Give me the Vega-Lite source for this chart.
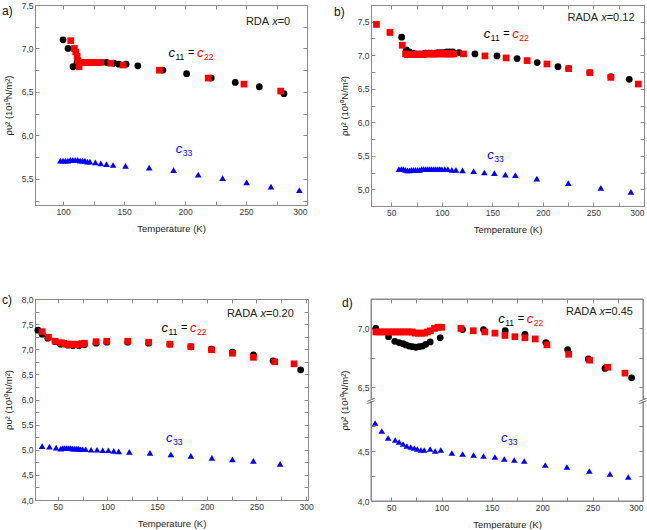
{
  "$schema": "https://vega.github.io/schema/vega-lite/v6.json",
  "padding": {"left": 1, "top": 0, "right": 2, "bottom": 0},
  "background": "white",
  "config": {
    "font": "Liberation Sans",
    "view": {"stroke": "#8a8a8a", "strokeWidth": 1},
    "axis": {
      "grid": false, "domain": true, "ticks": true, "domainColor": "#8a8a8a", "domainWidth": 1, "tickColor": "#8a8a8a", "tickSize": -4,
      "labelFontSize": 8.5, "labelColor": "#333333", "labelPadding": 6,
      "titleFontSize": 9.5, "titleFontWeight": "normal", "titleColor": "#222222", "titlePadding": 8
    },
    "text": {"font": "Liberation Sans"}
  },
  "datasets": {
    "one": [{}],
    "a": [
      {"T": 100, "v": 7.10, "s": "c11"}, {"T": 104.1, "v": 7.00, "s": "c11"}, {"T": 108.2, "v": 6.79, "s": "c11"},
      {"T": 111.5, "v": 6.84, "s": "c11"}, {"T": 114, "v": 6.84, "s": "c11"}, {"T": 117, "v": 6.84, "s": "c11"},
      {"T": 120, "v": 6.84, "s": "c11"}, {"T": 123, "v": 6.84, "s": "c11"}, {"T": 126, "v": 6.84, "s": "c11"},
      {"T": 129, "v": 6.84, "s": "c11"}, {"T": 135.6, "v": 6.84, "s": "c11"}, {"T": 141.6, "v": 6.83, "s": "c11"},
      {"T": 145.7, "v": 6.82, "s": "c11"}, {"T": 151.7, "v": 6.82, "s": "c11"}, {"T": 161.3, "v": 6.80, "s": "c11"},
      {"T": 181.8, "v": 6.75, "s": "c11"}, {"T": 201.3, "v": 6.71, "s": "c11"}, {"T": 221.5, "v": 6.66, "s": "c11"},
      {"T": 241.2, "v": 6.61, "s": "c11"}, {"T": 260.9, "v": 6.56, "s": "c11"}, {"T": 281.1, "v": 6.48, "s": "c11"},
      {"T": 106.3, "v": 7.09, "s": "c22"}, {"T": 109.3, "v": 7.00, "s": "c22"}, {"T": 110.4, "v": 6.96, "s": "c22"},
      {"T": 111.5, "v": 6.91, "s": "c22"}, {"T": 112.3, "v": 6.86, "s": "c22"}, {"T": 113.1, "v": 6.79, "s": "c22"},
      {"T": 114, "v": 6.84, "s": "c22"}, {"T": 115.5, "v": 6.84, "s": "c22"}, {"T": 117, "v": 6.84, "s": "c22"},
      {"T": 118.5, "v": 6.84, "s": "c22"}, {"T": 120, "v": 6.84, "s": "c22"}, {"T": 121.5, "v": 6.84, "s": "c22"},
      {"T": 123, "v": 6.84, "s": "c22"}, {"T": 124.5, "v": 6.84, "s": "c22"}, {"T": 126, "v": 6.84, "s": "c22"},
      {"T": 127.5, "v": 6.84, "s": "c22"}, {"T": 129, "v": 6.84, "s": "c22"}, {"T": 131, "v": 6.84, "s": "c22"},
      {"T": 139.1, "v": 6.83, "s": "c22"}, {"T": 149.2, "v": 6.81, "s": "c22"}, {"T": 179.0, "v": 6.75, "s": "c22"},
      {"T": 219.0, "v": 6.66, "s": "c22"}, {"T": 248.3, "v": 6.59, "s": "c22"}, {"T": 278.4, "v": 6.51, "s": "c22"},
      {"T": 97.8, "v": 5.71, "s": "c33"}, {"T": 100, "v": 5.71, "s": "c33"}, {"T": 102, "v": 5.71, "s": "c33"},
      {"T": 104, "v": 5.71, "s": "c33"}, {"T": 106, "v": 5.72, "s": "c33"}, {"T": 108, "v": 5.72, "s": "c33"},
      {"T": 110, "v": 5.72, "s": "c33"}, {"T": 112, "v": 5.72, "s": "c33"}, {"T": 114, "v": 5.71, "s": "c33"},
      {"T": 116, "v": 5.71, "s": "c33"}, {"T": 118, "v": 5.71, "s": "c33"}, {"T": 120, "v": 5.70, "s": "c33"},
      {"T": 122, "v": 5.70, "s": "c33"}, {"T": 126.5, "v": 5.69, "s": "c33"}, {"T": 130.9, "v": 5.68, "s": "c33"},
      {"T": 135.6, "v": 5.67, "s": "c33"}, {"T": 141.0, "v": 5.66, "s": "c33"}, {"T": 151.2, "v": 5.65, "s": "c33"},
      {"T": 170.6, "v": 5.63, "s": "c33"}, {"T": 190.6, "v": 5.60, "s": "c33"}, {"T": 210.8, "v": 5.55, "s": "c33"},
      {"T": 230.8, "v": 5.51, "s": "c33"}, {"T": 250.5, "v": 5.46, "s": "c33"}, {"T": 270.5, "v": 5.41, "s": "c33"},
      {"T": 293.7, "v": 5.37, "s": "c33"}
    ],
    "b": [
      {"T": 60.3, "v": 7.27, "s": "c11"}, {"T": 64.9, "v": 7.08, "s": "c11"}, {"T": 68, "v": 7.05, "s": "c11"},
      {"T": 71.5, "v": 7.03, "s": "c11"}, {"T": 75, "v": 7.02, "s": "c11"}, {"T": 78, "v": 7.02, "s": "c11"},
      {"T": 81, "v": 7.02, "s": "c11"}, {"T": 84, "v": 7.03, "s": "c11"}, {"T": 87, "v": 7.03, "s": "c11"},
      {"T": 90, "v": 7.03, "s": "c11"}, {"T": 93, "v": 7.03, "s": "c11"}, {"T": 96, "v": 7.04, "s": "c11"},
      {"T": 99, "v": 7.04, "s": "c11"}, {"T": 102, "v": 7.04, "s": "c11"}, {"T": 105, "v": 7.05, "s": "c11"},
      {"T": 108, "v": 7.05, "s": "c11"}, {"T": 111, "v": 7.05, "s": "c11"}, {"T": 117, "v": 7.04, "s": "c11"},
      {"T": 132.8, "v": 7.02, "s": "c11"}, {"T": 154.6, "v": 6.99, "s": "c11"}, {"T": 174.5, "v": 6.95, "s": "c11"},
      {"T": 194.4, "v": 6.89, "s": "c11"}, {"T": 214.9, "v": 6.83, "s": "c11"}, {"T": 225.5, "v": 6.80, "s": "c11"},
      {"T": 246.4, "v": 6.74, "s": "c11"}, {"T": 267.2, "v": 6.68, "s": "c11"}, {"T": 285.4, "v": 6.64, "s": "c11"},
      {"T": 35.4, "v": 7.46, "s": "c22"}, {"T": 48.7, "v": 7.34, "s": "c22"}, {"T": 60.9, "v": 7.15, "s": "c22"},
      {"T": 64.2, "v": 7.02, "s": "c22"}, {"T": 66, "v": 7.01, "s": "c22"}, {"T": 68, "v": 7.01, "s": "c22"},
      {"T": 70, "v": 7.01, "s": "c22"}, {"T": 72, "v": 7.01, "s": "c22"}, {"T": 74, "v": 7.01, "s": "c22"},
      {"T": 76, "v": 7.01, "s": "c22"}, {"T": 78, "v": 7.01, "s": "c22"}, {"T": 80, "v": 7.01, "s": "c22"},
      {"T": 82, "v": 7.01, "s": "c22"}, {"T": 84, "v": 7.02, "s": "c22"}, {"T": 86, "v": 7.02, "s": "c22"},
      {"T": 88, "v": 7.02, "s": "c22"}, {"T": 90, "v": 7.02, "s": "c22"}, {"T": 92, "v": 7.02, "s": "c22"},
      {"T": 94, "v": 7.02, "s": "c22"}, {"T": 96, "v": 7.02, "s": "c22"}, {"T": 98, "v": 7.02, "s": "c22"},
      {"T": 100, "v": 7.03, "s": "c22"}, {"T": 102, "v": 7.02, "s": "c22"}, {"T": 104, "v": 7.02, "s": "c22"},
      {"T": 106, "v": 7.02, "s": "c22"}, {"T": 108, "v": 7.02, "s": "c22"}, {"T": 110, "v": 7.02, "s": "c22"},
      {"T": 112, "v": 7.02, "s": "c22"}, {"T": 121.5, "v": 7.02, "s": "c22"}, {"T": 142.7, "v": 6.99, "s": "c22"},
      {"T": 163.6, "v": 6.96, "s": "c22"}, {"T": 184.4, "v": 6.92, "s": "c22"}, {"T": 204.0, "v": 6.87, "s": "c22"},
      {"T": 225.5, "v": 6.80, "s": "c22"}, {"T": 246.4, "v": 6.74, "s": "c22"}, {"T": 267.2, "v": 6.67, "s": "c22"},
      {"T": 294.4, "v": 6.57, "s": "c22"},
      {"T": 57.6, "v": 5.30, "s": "c33"}, {"T": 60, "v": 5.30, "s": "c33"}, {"T": 62, "v": 5.30, "s": "c33"},
      {"T": 64, "v": 5.29, "s": "c33"}, {"T": 66, "v": 5.28, "s": "c33"}, {"T": 68, "v": 5.28, "s": "c33"},
      {"T": 70, "v": 5.29, "s": "c33"}, {"T": 72, "v": 5.29, "s": "c33"}, {"T": 74, "v": 5.29, "s": "c33"},
      {"T": 76, "v": 5.29, "s": "c33"}, {"T": 78, "v": 5.29, "s": "c33"}, {"T": 80, "v": 5.30, "s": "c33"},
      {"T": 82, "v": 5.30, "s": "c33"}, {"T": 84, "v": 5.30, "s": "c33"}, {"T": 86, "v": 5.30, "s": "c33"},
      {"T": 88, "v": 5.30, "s": "c33"}, {"T": 90, "v": 5.30, "s": "c33"}, {"T": 92, "v": 5.30, "s": "c33"},
      {"T": 94, "v": 5.30, "s": "c33"}, {"T": 96, "v": 5.30, "s": "c33"}, {"T": 98, "v": 5.30, "s": "c33"},
      {"T": 100, "v": 5.30, "s": "c33"}, {"T": 103, "v": 5.30, "s": "c33"}, {"T": 106, "v": 5.30, "s": "c33"},
      {"T": 110, "v": 5.29, "s": "c33"}, {"T": 114, "v": 5.29, "s": "c33"}, {"T": 120.5, "v": 5.28, "s": "c33"},
      {"T": 131.5, "v": 5.27, "s": "c33"}, {"T": 142.1, "v": 5.25, "s": "c33"}, {"T": 152.0, "v": 5.24, "s": "c33"},
      {"T": 162.9, "v": 5.22, "s": "c33"}, {"T": 172.8, "v": 5.21, "s": "c33"}, {"T": 194.0, "v": 5.16, "s": "c33"},
      {"T": 225.2, "v": 5.09, "s": "c33"}, {"T": 257.3, "v": 5.02, "s": "c33"}, {"T": 287.1, "v": 4.96, "s": "c33"}
    ],
    "c": [
      {"T": 29.9, "v": 7.38, "s": "c11"}, {"T": 34.2, "v": 7.30, "s": "c11"}, {"T": 39.9, "v": 7.22, "s": "c11"},
      {"T": 47.3, "v": 7.15, "s": "c11"}, {"T": 52.7, "v": 7.10, "s": "c11"}, {"T": 60.1, "v": 7.08, "s": "c11"},
      {"T": 65.1, "v": 7.07, "s": "c11"}, {"T": 71.1, "v": 7.07, "s": "c11"}, {"T": 76.8, "v": 7.09, "s": "c11"},
      {"T": 88.5, "v": 7.12, "s": "c11"}, {"T": 99.3, "v": 7.14, "s": "c11"}, {"T": 120.4, "v": 7.14, "s": "c11"},
      {"T": 141.5, "v": 7.12, "s": "c11"}, {"T": 162.9, "v": 7.10, "s": "c11"}, {"T": 184.0, "v": 7.05, "s": "c11"},
      {"T": 204.8, "v": 7.00, "s": "c11"}, {"T": 225.9, "v": 6.94, "s": "c11"}, {"T": 247.0, "v": 6.89, "s": "c11"},
      {"T": 266.8, "v": 6.77, "s": "c11"}, {"T": 294.6, "v": 6.59, "s": "c11"},
      {"T": 34.2, "v": 7.35, "s": "c22"}, {"T": 40.6, "v": 7.24, "s": "c22"}, {"T": 47.3, "v": 7.16, "s": "c22"},
      {"T": 53.4, "v": 7.13, "s": "c22"}, {"T": 56, "v": 7.12, "s": "c22"}, {"T": 58.4, "v": 7.10, "s": "c22"},
      {"T": 60.5, "v": 7.10, "s": "c22"}, {"T": 62.7, "v": 7.10, "s": "c22"}, {"T": 65, "v": 7.10, "s": "c22"},
      {"T": 67.4, "v": 7.09, "s": "c22"}, {"T": 69.7, "v": 7.10, "s": "c22"}, {"T": 72.1, "v": 7.10, "s": "c22"},
      {"T": 74.4, "v": 7.11, "s": "c22"}, {"T": 76.8, "v": 7.12, "s": "c22"}, {"T": 88.5, "v": 7.15, "s": "c22"},
      {"T": 99.3, "v": 7.16, "s": "c22"}, {"T": 120.4, "v": 7.16, "s": "c22"}, {"T": 141.5, "v": 7.14, "s": "c22"},
      {"T": 162.9, "v": 7.10, "s": "c22"}, {"T": 184.0, "v": 7.05, "s": "c22"}, {"T": 204.8, "v": 6.99, "s": "c22"},
      {"T": 225.9, "v": 6.92, "s": "c22"}, {"T": 247.0, "v": 6.84, "s": "c22"}, {"T": 268.5, "v": 6.75, "s": "c22"},
      {"T": 287.9, "v": 6.71, "s": "c22"},
      {"T": 34.2, "v": 5.07, "s": "c33"}, {"T": 41.6, "v": 5.06, "s": "c33"}, {"T": 48.3, "v": 5.04, "s": "c33"},
      {"T": 53, "v": 5.02, "s": "c33"}, {"T": 55, "v": 5.03, "s": "c33"}, {"T": 57, "v": 5.03, "s": "c33"},
      {"T": 59, "v": 5.03, "s": "c33"}, {"T": 61, "v": 5.03, "s": "c33"}, {"T": 63, "v": 5.03, "s": "c33"},
      {"T": 65, "v": 5.02, "s": "c33"}, {"T": 67, "v": 5.02, "s": "c33"}, {"T": 69, "v": 5.02, "s": "c33"},
      {"T": 71, "v": 5.02, "s": "c33"}, {"T": 73, "v": 5.01, "s": "c33"}, {"T": 75, "v": 5.01, "s": "c33"},
      {"T": 78, "v": 5.01, "s": "c33"}, {"T": 83.5, "v": 5.00, "s": "c33"}, {"T": 89.5, "v": 5.00, "s": "c33"},
      {"T": 95.2, "v": 4.99, "s": "c33"}, {"T": 100.9, "v": 4.99, "s": "c33"}, {"T": 106.3, "v": 4.98, "s": "c33"},
      {"T": 111.3, "v": 4.97, "s": "c33"}, {"T": 122.0, "v": 4.96, "s": "c33"}, {"T": 142.8, "v": 4.94, "s": "c33"},
      {"T": 163.9, "v": 4.91, "s": "c33"}, {"T": 184.0, "v": 4.88, "s": "c33"}, {"T": 205.2, "v": 4.84, "s": "c33"},
      {"T": 225.9, "v": 4.81, "s": "c33"}, {"T": 247.0, "v": 4.78, "s": "c33"}, {"T": 273.9, "v": 4.72, "s": "c33"}
    ],
    "d": [
      {"T": 34.8, "v": 7.00, "s": "c11"}, {"T": 47.4, "v": 6.93, "s": "c11"}, {"T": 53.6, "v": 6.89, "s": "c11"},
      {"T": 57.9, "v": 6.88, "s": "c11"}, {"T": 61.9, "v": 6.87, "s": "c11"}, {"T": 64.6, "v": 6.86, "s": "c11"},
      {"T": 67.9, "v": 6.85, "s": "c11"}, {"T": 71.2, "v": 6.845, "s": "c11"}, {"T": 74.5, "v": 6.84, "s": "c11"},
      {"T": 77.8, "v": 6.845, "s": "c11"}, {"T": 81.1, "v": 6.85, "s": "c11"}, {"T": 84.4, "v": 6.865, "s": "c11"},
      {"T": 88.7, "v": 6.885, "s": "c11"}, {"T": 98.7, "v": 6.92, "s": "c11"}, {"T": 120.9, "v": 6.99, "s": "c11"},
      {"T": 141.7, "v": 6.99, "s": "c11"}, {"T": 163.2, "v": 6.98, "s": "c11"}, {"T": 182.8, "v": 6.95, "s": "c11"},
      {"T": 203.6, "v": 6.88, "s": "c11"}, {"T": 225.2, "v": 6.82, "s": "c11"}, {"T": 245.7, "v": 6.74, "s": "c11"},
      {"T": 262.3, "v": 6.66, "s": "c11"}, {"T": 288.7, "v": 6.58, "s": "c11"},
      {"T": 34.8, "v": 6.97, "s": "c22"}, {"T": 38, "v": 6.97, "s": "c22"}, {"T": 41, "v": 6.97, "s": "c22"},
      {"T": 44, "v": 6.97, "s": "c22"}, {"T": 47, "v": 6.97, "s": "c22"}, {"T": 50, "v": 6.97, "s": "c22"},
      {"T": 53, "v": 6.97, "s": "c22"}, {"T": 56, "v": 6.97, "s": "c22"}, {"T": 59, "v": 6.97, "s": "c22"},
      {"T": 62, "v": 6.97, "s": "c22"}, {"T": 65, "v": 6.97, "s": "c22"}, {"T": 68, "v": 6.97, "s": "c22"},
      {"T": 71, "v": 6.97, "s": "c22"}, {"T": 74, "v": 6.96, "s": "c22"}, {"T": 77, "v": 6.96, "s": "c22"},
      {"T": 80, "v": 6.96, "s": "c22"}, {"T": 83, "v": 6.96, "s": "c22"}, {"T": 86, "v": 6.97, "s": "c22"},
      {"T": 89, "v": 6.98, "s": "c22"}, {"T": 93, "v": 7.00, "s": "c22"}, {"T": 96.5, "v": 7.01, "s": "c22"},
      {"T": 100, "v": 7.01, "s": "c22"}, {"T": 119.2, "v": 7.00, "s": "c22"}, {"T": 131.5, "v": 6.98, "s": "c22"},
      {"T": 143.0, "v": 6.97, "s": "c22"}, {"T": 153.0, "v": 6.96, "s": "c22"}, {"T": 162.9, "v": 6.94, "s": "c22"},
      {"T": 172.8, "v": 6.93, "s": "c22"}, {"T": 182.8, "v": 6.92, "s": "c22"}, {"T": 193.0, "v": 6.91, "s": "c22"},
      {"T": 204.6, "v": 6.86, "s": "c22"}, {"T": 226.2, "v": 6.78, "s": "c22"}, {"T": 247.0, "v": 6.73, "s": "c22"},
      {"T": 264.9, "v": 6.67, "s": "c22"}, {"T": 282.1, "v": 6.62, "s": "c22"},
      {"T": 34.1, "v": 4.78, "s": "c33"}, {"T": 40.7, "v": 4.70, "s": "c33"}, {"T": 47.0, "v": 4.63, "s": "c33"},
      {"T": 54.0, "v": 4.61, "s": "c33"}, {"T": 57.9, "v": 4.59, "s": "c33"}, {"T": 61.9, "v": 4.57, "s": "c33"},
      {"T": 65.6, "v": 4.55, "s": "c33"}, {"T": 69.5, "v": 4.54, "s": "c33"}, {"T": 73, "v": 4.53, "s": "c33"},
      {"T": 76, "v": 4.52, "s": "c33"}, {"T": 79.5, "v": 4.51, "s": "c33"}, {"T": 82.8, "v": 4.51, "s": "c33"},
      {"T": 88.7, "v": 4.52, "s": "c33"}, {"T": 93.7, "v": 4.50, "s": "c33"}, {"T": 99.3, "v": 4.51, "s": "c33"},
      {"T": 110.3, "v": 4.48, "s": "c33"}, {"T": 120.9, "v": 4.47, "s": "c33"}, {"T": 131.8, "v": 4.46, "s": "c33"},
      {"T": 141.7, "v": 4.45, "s": "c33"}, {"T": 153.0, "v": 4.44, "s": "c33"}, {"T": 162.3, "v": 4.42, "s": "c33"},
      {"T": 172.2, "v": 4.41, "s": "c33"}, {"T": 182.1, "v": 4.40, "s": "c33"}, {"T": 203.0, "v": 4.36, "s": "c33"},
      {"T": 224.5, "v": 4.34, "s": "c33"}, {"T": 246.7, "v": 4.30, "s": "c33"}, {"T": 267.2, "v": 4.27, "s": "c33"},
      {"T": 285.4, "v": 4.24, "s": "c33"}
    ]
  },
  "columns": 2,
  "spacing": {"row": 58, "column": 19},
  "concat": [
    {
      "width": 272, "height": 200,
      "data": {"name": "a"},
      "layer": [
        {
          "mark": {"type": "point", "filled": true, "opacity": 1},
          "encoding": {
            "x": {"field": "T", "type": "quantitative", "scale": {"domain": [77, 300], "nice": false, "zero": false},
                  "axis": {"title": "Temperature (K)", "values": [100, 125, 150, 175, 200, 225, 250, 275, 300], "labelExpr": "datum.value % 50 == 0 ? datum.label : ''"}},
            "y": {"field": "v", "type": "quantitative", "scale": {"domain": [5.2, 7.5], "nice": false, "zero": false},
                  "axis": {"title": "ρυ² (10¹⁰N/m²)", "values": [5.25, 5.5, 5.75, 6.0, 6.25, 6.5, 6.75, 7.0, 7.25, 7.5], "labelExpr": "abs(datum.value * 2 - round(datum.value * 2)) < 0.001 ? replace(format(datum.value, '.1f'), '.', ',') : ''"}},
            "shape": {"field": "s", "type": "nominal", "scale": {"domain": ["c11", "c22", "c33"], "range": ["circle", "square", "triangle-up"]}, "legend": null},
            "color": {"field": "s", "type": "nominal", "scale": {"domain": ["c11", "c22", "c33"], "range": ["#000000", "#ff0000", "#0000ff"]}, "legend": null},
            "size": {"field": "s", "type": "nominal", "scale": {"domain": ["c11", "c22", "c33"], "range": [46, 44, 66]}, "legend": null}
          }
        },
        {
          "data": {"name": "one"},
          "mark": {"type": "text", "text": "RDA", "align": "left", "baseline": "middle", "fontSize": 11, "color": "#222222"},
          "encoding": {
            "x": {"datum": 249.9, "type": "quantitative", "axis": {"orient": "top", "labels": false, "title": null, "values": [100, 125, 150, 175, 200, 225, 250, 275, 300]}},
            "y": {"datum": 7.30, "type": "quantitative", "axis": {"orient": "right", "labels": false, "title": null, "values": [5.25, 5.5, 5.75, 6.0, 6.25, 6.5, 6.75, 7.0, 7.25, 7.5]}}
          }
        },
        {"data": {"name": "one"}, "mark": {"type": "text", "text": "a)", "align": "left", "baseline": "middle", "fontSize": 12, "color": "#111111", "dx": -33, "dy": 6},
         "encoding": {"x": {"datum": 77, "type": "quantitative", "axis": null}, "y": {"datum": 7.5, "type": "quantitative", "axis": null}}},
        {"data": {"name": "one"}, "mark": {"type": "text", "text": "x", "align": "left", "baseline": "middle", "fontSize": 11, "fontStyle": "italic", "color": "#222222", "dx": 26.3},
         "encoding": {"x": {"datum": 249.9, "type": "quantitative", "axis": null}, "y": {"datum": 7.30, "type": "quantitative", "axis": null}}},
        {"data": {"name": "one"}, "mark": {"type": "text", "text": "=0", "align": "left", "baseline": "middle", "fontSize": 11, "color": "#222222", "dx": 31.8},
         "encoding": {"x": {"datum": 249.9, "type": "quantitative", "axis": null}, "y": {"datum": 7.30, "type": "quantitative", "axis": null}}},
        {"data": {"name": "one"}, "mark": {"type": "text", "text": "c", "align": "left", "baseline": "middle", "fontSize": 13, "fontStyle": "italic", "color": "#000000"},
         "encoding": {"x": {"datum": 186.4, "type": "quantitative", "axis": null}, "y": {"datum": 6.95, "type": "quantitative", "axis": null}}},
        {"data": {"name": "one"}, "mark": {"type": "text", "text": "11", "align": "left", "baseline": "middle", "fontSize": 8.5, "color": "#000000", "dx": 7, "dy": 4},
         "encoding": {"x": {"datum": 186.4, "type": "quantitative", "axis": null}, "y": {"datum": 6.95, "type": "quantitative", "axis": null}}},
        {"data": {"name": "one"}, "mark": {"type": "text", "text": "=", "align": "left", "baseline": "middle", "fontSize": 11, "color": "#000000", "dx": 19.5},
         "encoding": {"x": {"datum": 186.4, "type": "quantitative", "axis": null}, "y": {"datum": 6.95, "type": "quantitative", "axis": null}}},
        {"data": {"name": "one"}, "mark": {"type": "text", "text": "c", "align": "left", "baseline": "middle", "fontSize": 13, "fontStyle": "italic", "color": "#ff0000", "dx": 28.5},
         "encoding": {"x": {"datum": 186.4, "type": "quantitative", "axis": null}, "y": {"datum": 6.95, "type": "quantitative", "axis": null}}},
        {"data": {"name": "one"}, "mark": {"type": "text", "text": "22", "align": "left", "baseline": "middle", "fontSize": 8.5, "color": "#ff0000", "dx": 35.5, "dy": 4},
         "encoding": {"x": {"datum": 186.4, "type": "quantitative", "axis": null}, "y": {"datum": 6.95, "type": "quantitative", "axis": null}}},
        {"data": {"name": "one"}, "mark": {"type": "text", "text": "c", "align": "left", "baseline": "middle", "fontSize": 13, "fontStyle": "italic", "color": "#0000ff"},
         "encoding": {"x": {"datum": 192.4, "type": "quantitative", "axis": null}, "y": {"datum": 5.84, "type": "quantitative", "axis": null}}},
        {"data": {"name": "one"}, "mark": {"type": "text", "text": "33", "align": "left", "baseline": "middle", "fontSize": 8.5, "color": "#0000ff", "dx": 7, "dy": 4},
         "encoding": {"x": {"datum": 192.4, "type": "quantitative", "axis": null}, "y": {"datum": 5.84, "type": "quantitative", "axis": null}}}
      ],
      "resolve": {"axis": {"x": "independent", "y": "independent"}}
    },
    {
      "width": 273, "height": 201,
      "data": {"name": "b"},
      "layer": [
        {
          "mark": {"type": "point", "filled": true, "opacity": 1},
          "encoding": {
            "x": {"field": "T", "type": "quantitative", "scale": {"domain": [30, 300], "nice": false, "zero": false},
                  "axis": {"title": "Temperature (K)", "values": [50, 75, 100, 125, 150, 175, 200, 225, 250, 275, 300], "labelExpr": "datum.value % 50 == 0 ? datum.label : ''"}},
            "y": {"field": "v", "type": "quantitative", "scale": {"domain": [4.75, 7.75], "nice": false, "zero": false},
                  "axis": {"title": "ρυ² (10¹⁰N/m²)", "values": [4.75, 5.0, 5.25, 5.5, 5.75, 6.0, 6.25, 6.5, 6.75, 7.0, 7.25, 7.5, 7.75], "labelExpr": "datum.value == 7.75 ? ' ' : (abs(datum.value * 2 - round(datum.value * 2)) < 0.001 ? replace(format(datum.value, '.1f'), '.', ',') : '')"}},
            "shape": {"field": "s", "type": "nominal", "scale": {"domain": ["c11", "c22", "c33"], "range": ["circle", "square", "triangle-up"]}, "legend": null},
            "color": {"field": "s", "type": "nominal", "scale": {"domain": ["c11", "c22", "c33"], "range": ["#000000", "#ff0000", "#0000ff"]}, "legend": null},
            "size": {"field": "s", "type": "nominal", "scale": {"domain": ["c11", "c22", "c33"], "range": [46, 44, 66]}, "legend": null}
          }
        },
        {
          "data": {"name": "one"},
          "mark": {"type": "text", "text": "RADA", "align": "left", "baseline": "middle", "fontSize": 11, "color": "#222222"},
          "encoding": {
            "x": {"datum": 224.4, "type": "quantitative", "axis": {"orient": "top", "labels": false, "title": null, "values": [50, 75, 100, 125, 150, 175, 200, 225, 250, 275, 300]}},
            "y": {"datum": 7.56, "type": "quantitative", "axis": {"orient": "right", "labels": false, "title": null, "values": [5.0, 5.25, 5.5, 5.75, 6.0, 6.25, 6.5, 6.75, 7.0, 7.25, 7.5]}}
          }
        },
        {"data": {"name": "one"}, "mark": {"type": "text", "text": "b)", "align": "left", "baseline": "middle", "fontSize": 12, "color": "#111111", "dx": -37, "dy": 7},
         "encoding": {"x": {"datum": 30, "type": "quantitative", "axis": null}, "y": {"datum": 7.75, "type": "quantitative", "axis": null}}},
        {"data": {"name": "one"}, "mark": {"type": "text", "text": "x", "align": "left", "baseline": "middle", "fontSize": 11, "fontStyle": "italic", "color": "#222222", "dx": 33.6},
         "encoding": {"x": {"datum": 224.4, "type": "quantitative", "axis": null}, "y": {"datum": 7.56, "type": "quantitative", "axis": null}}},
        {"data": {"name": "one"}, "mark": {"type": "text", "text": "=0.12", "align": "left", "baseline": "middle", "fontSize": 11, "color": "#222222", "dx": 39.1},
         "encoding": {"x": {"datum": 224.4, "type": "quantitative", "axis": null}, "y": {"datum": 7.56, "type": "quantitative", "axis": null}}},
        {"data": {"name": "one"}, "mark": {"type": "text", "text": "c", "align": "left", "baseline": "middle", "fontSize": 13, "fontStyle": "italic", "color": "#000000"},
         "encoding": {"x": {"datum": 141.6, "type": "quantitative", "axis": null}, "y": {"datum": 7.31, "type": "quantitative", "axis": null}}},
        {"data": {"name": "one"}, "mark": {"type": "text", "text": "11", "align": "left", "baseline": "middle", "fontSize": 8.5, "color": "#000000", "dx": 7, "dy": 4},
         "encoding": {"x": {"datum": 141.6, "type": "quantitative", "axis": null}, "y": {"datum": 7.31, "type": "quantitative", "axis": null}}},
        {"data": {"name": "one"}, "mark": {"type": "text", "text": "=", "align": "left", "baseline": "middle", "fontSize": 11, "color": "#000000", "dx": 19.5},
         "encoding": {"x": {"datum": 141.6, "type": "quantitative", "axis": null}, "y": {"datum": 7.31, "type": "quantitative", "axis": null}}},
        {"data": {"name": "one"}, "mark": {"type": "text", "text": "c", "align": "left", "baseline": "middle", "fontSize": 13, "fontStyle": "italic", "color": "#ff0000", "dx": 28.5},
         "encoding": {"x": {"datum": 141.6, "type": "quantitative", "axis": null}, "y": {"datum": 7.31, "type": "quantitative", "axis": null}}},
        {"data": {"name": "one"}, "mark": {"type": "text", "text": "22", "align": "left", "baseline": "middle", "fontSize": 8.5, "color": "#ff0000", "dx": 35.5, "dy": 4},
         "encoding": {"x": {"datum": 141.6, "type": "quantitative", "axis": null}, "y": {"datum": 7.31, "type": "quantitative", "axis": null}}},
        {"data": {"name": "one"}, "mark": {"type": "text", "text": "c", "align": "left", "baseline": "middle", "fontSize": 13, "fontStyle": "italic", "color": "#0000ff"},
         "encoding": {"x": {"datum": 145.0, "type": "quantitative", "axis": null}, "y": {"datum": 5.51, "type": "quantitative", "axis": null}}},
        {"data": {"name": "one"}, "mark": {"type": "text", "text": "33", "align": "left", "baseline": "middle", "fontSize": 8.5, "color": "#0000ff", "dx": 7, "dy": 4},
         "encoding": {"x": {"datum": 145.0, "type": "quantitative", "axis": null}, "y": {"datum": 5.51, "type": "quantitative", "axis": null}}}
      ],
      "resolve": {"axis": {"x": "independent", "y": "independent"}}
    },
    {
      "width": 273, "height": 201,
      "data": {"name": "c"},
      "layer": [
        {
          "mark": {"type": "point", "filled": true, "opacity": 1},
          "encoding": {
            "x": {"field": "T", "type": "quantitative", "scale": {"domain": [27, 302], "nice": false, "zero": false},
                  "axis": {"title": "Temperature (K)", "values": [50, 75, 100, 125, 150, 175, 200, 225, 250, 275, 300], "labelExpr": "datum.value % 50 == 0 ? datum.label : ''"}},
            "y": {"field": "v", "type": "quantitative", "scale": {"domain": [4.0, 8.0], "nice": false, "zero": false},
                  "axis": {"title": "ρυ² (10¹⁰N/m²)", "values": [4.0, 4.25, 4.5, 4.75, 5.0, 5.25, 5.5, 5.75, 6.0, 6.25, 6.5, 6.75, 7.0, 7.25, 7.5, 7.75, 8.0], "labelExpr": "abs(datum.value * 2 - round(datum.value * 2)) < 0.001 ? replace(format(datum.value, '.1f'), '.', ',') : ''"}},
            "shape": {"field": "s", "type": "nominal", "scale": {"domain": ["c11", "c22", "c33"], "range": ["circle", "square", "triangle-up"]}, "legend": null},
            "color": {"field": "s", "type": "nominal", "scale": {"domain": ["c11", "c22", "c33"], "range": ["#000000", "#ff0000", "#0000ff"]}, "legend": null},
            "size": {"field": "s", "type": "nominal", "scale": {"domain": ["c11", "c22", "c33"], "range": [46, 44, 66]}, "legend": null}
          }
        },
        {
          "data": {"name": "one"},
          "mark": {"type": "text", "text": "RADA", "align": "left", "baseline": "middle", "fontSize": 11, "color": "#222222"},
          "encoding": {
            "x": {"datum": 220.3, "type": "quantitative", "axis": {"orient": "top", "labels": false, "title": null, "values": [50, 75, 100, 125, 150, 175, 200, 225, 250, 275, 300]}},
            "y": {"datum": 7.71, "type": "quantitative", "axis": {"orient": "right", "labels": false, "title": null, "values": [4.25, 4.5, 4.75, 5.0, 5.25, 5.5, 5.75, 6.0, 6.25, 6.5, 6.75, 7.0, 7.25, 7.5, 7.75]}}
          }
        },
        {"data": {"name": "one"}, "mark": {"type": "text", "text": "c)", "align": "left", "baseline": "middle", "fontSize": 12, "color": "#111111", "dx": -33, "dy": 1},
         "encoding": {"x": {"datum": 27, "type": "quantitative", "axis": null}, "y": {"datum": 8.0, "type": "quantitative", "axis": null}}},
        {"data": {"name": "one"}, "mark": {"type": "text", "text": "x", "align": "left", "baseline": "middle", "fontSize": 11, "fontStyle": "italic", "color": "#222222", "dx": 33.6},
         "encoding": {"x": {"datum": 220.3, "type": "quantitative", "axis": null}, "y": {"datum": 7.71, "type": "quantitative", "axis": null}}},
        {"data": {"name": "one"}, "mark": {"type": "text", "text": "=0.20", "align": "left", "baseline": "middle", "fontSize": 11, "color": "#222222", "dx": 39.1},
         "encoding": {"x": {"datum": 220.3, "type": "quantitative", "axis": null}, "y": {"datum": 7.71, "type": "quantitative", "axis": null}}},
        {"data": {"name": "one"}, "mark": {"type": "text", "text": "c", "align": "left", "baseline": "middle", "fontSize": 13, "fontStyle": "italic", "color": "#000000"},
         "encoding": {"x": {"datum": 154.5, "type": "quantitative", "axis": null}, "y": {"datum": 7.43, "type": "quantitative", "axis": null}}},
        {"data": {"name": "one"}, "mark": {"type": "text", "text": "11", "align": "left", "baseline": "middle", "fontSize": 8.5, "color": "#000000", "dx": 7, "dy": 4},
         "encoding": {"x": {"datum": 154.5, "type": "quantitative", "axis": null}, "y": {"datum": 7.43, "type": "quantitative", "axis": null}}},
        {"data": {"name": "one"}, "mark": {"type": "text", "text": "=", "align": "left", "baseline": "middle", "fontSize": 11, "color": "#000000", "dx": 19.5},
         "encoding": {"x": {"datum": 154.5, "type": "quantitative", "axis": null}, "y": {"datum": 7.43, "type": "quantitative", "axis": null}}},
        {"data": {"name": "one"}, "mark": {"type": "text", "text": "c", "align": "left", "baseline": "middle", "fontSize": 13, "fontStyle": "italic", "color": "#ff0000", "dx": 28.5},
         "encoding": {"x": {"datum": 154.5, "type": "quantitative", "axis": null}, "y": {"datum": 7.43, "type": "quantitative", "axis": null}}},
        {"data": {"name": "one"}, "mark": {"type": "text", "text": "22", "align": "left", "baseline": "middle", "fontSize": 8.5, "color": "#ff0000", "dx": 35.5, "dy": 4},
         "encoding": {"x": {"datum": 154.5, "type": "quantitative", "axis": null}, "y": {"datum": 7.43, "type": "quantitative", "axis": null}}},
        {"data": {"name": "one"}, "mark": {"type": "text", "text": "c", "align": "left", "baseline": "middle", "fontSize": 13, "fontStyle": "italic", "color": "#0000ff"},
         "encoding": {"x": {"datum": 159.0, "type": "quantitative", "axis": null}, "y": {"datum": 5.23, "type": "quantitative", "axis": null}}},
        {"data": {"name": "one"}, "mark": {"type": "text", "text": "33", "align": "left", "baseline": "middle", "fontSize": 8.5, "color": "#0000ff", "dx": 7, "dy": 4},
         "encoding": {"x": {"datum": 159.0, "type": "quantitative", "axis": null}, "y": {"datum": 5.23, "type": "quantitative", "axis": null}}}
      ],
      "resolve": {"axis": {"x": "independent", "y": "independent"}}
    },
    {
      "spacing": 2,
      "bounds": "flush",
      "data": {"name": "d"},
      "vconcat": [
        {
          "width": 272, "height": 100,
          "view": {"stroke": null},
          "transform": [{"filter": "datum.s != 'c33'"}],
          "layer": [
            {
              "mark": {"type": "point", "filled": true, "opacity": 1},
              "encoding": {
                "x": {"field": "T", "type": "quantitative", "scale": {"domain": [30, 300], "nice": false, "zero": false},
                      "axis": {"orient": "top", "labels": false, "title": null, "values": [50, 75, 100, 125, 150, 175, 200, 225, 250, 275, 300]}},
                "y": {"field": "v", "type": "quantitative", "scale": {"domain": [6.4, 7.25], "nice": false, "zero": false},
                      "axis": {"title": null, "values": [6.5, 6.75, 7.0, 7.25], "labelExpr": "abs(datum.value * 2 - round(datum.value * 2)) < 0.001 ? replace(format(datum.value, '.1f'), '.', ',') : ''"}},
                "shape": {"field": "s", "type": "nominal", "scale": {"domain": ["c11", "c22", "c33"], "range": ["circle", "square", "triangle-up"]}, "legend": null},
                "color": {"field": "s", "type": "nominal", "scale": {"domain": ["c11", "c22", "c33"], "range": ["#000000", "#ff0000", "#0000ff"]}, "legend": null},
                "size": {"field": "s", "type": "nominal", "scale": {"domain": ["c11", "c22", "c33"], "range": [46, 44, 66]}, "legend": null}
              }
            },
            {
              "data": {"name": "one"},
              "mark": {"type": "text", "text": "RADA", "align": "left", "baseline": "middle", "fontSize": 11, "color": "#222222"},
              "encoding": {
                "x": {"datum": 223.5, "type": "quantitative", "axis": null},
                "y": {"datum": 7.14, "type": "quantitative", "axis": {"orient": "right", "labels": false, "title": null, "values": [6.5, 6.75, 7.0]}}
              }
            },
            {"data": {"name": "one"}, "mark": {"type": "rule", "color": "#8a8a8a", "strokeWidth": 1},
             "encoding": {"x": {"datum": 30, "type": "quantitative", "axis": null}, "y": {"datum": 6.4, "type": "quantitative", "axis": null}, "y2": {"datum": 7.25}}},
            {"data": {"name": "one"}, "mark": {"type": "rule", "color": "#8a8a8a", "strokeWidth": 1},
             "encoding": {"x": {"datum": 300, "type": "quantitative", "axis": null}, "y": {"datum": 6.4, "type": "quantitative", "axis": null}, "y2": {"datum": 7.25}}},
            {"data": {"name": "one"}, "mark": {"type": "rule", "color": "#8a8a8a", "strokeWidth": 1},
             "encoding": {"x": {"datum": 30, "type": "quantitative", "axis": null}, "x2": {"datum": 300}, "y": {"datum": 7.25, "type": "quantitative", "axis": null}}},
            {"data": {"name": "one"}, "mark": {"type": "text", "text": "d)", "align": "left", "baseline": "middle", "fontSize": 12, "color": "#111111", "dx": -29, "dy": 4},
             "encoding": {"x": {"datum": 30, "type": "quantitative", "axis": null}, "y": {"datum": 7.25, "type": "quantitative", "axis": null}}},
            {"data": {"name": "one"}, "mark": {"type": "text", "text": "x", "align": "left", "baseline": "middle", "fontSize": 11, "fontStyle": "italic", "color": "#222222", "dx": 33.6},
             "encoding": {"x": {"datum": 223.5, "type": "quantitative", "axis": null}, "y": {"datum": 7.14, "type": "quantitative", "axis": null}}},
            {"data": {"name": "one"}, "mark": {"type": "text", "text": "=0.45", "align": "left", "baseline": "middle", "fontSize": 11, "color": "#222222", "dx": 39.1},
             "encoding": {"x": {"datum": 223.5, "type": "quantitative", "axis": null}, "y": {"datum": 7.14, "type": "quantitative", "axis": null}}},
            {"data": {"name": "one"}, "mark": {"type": "text", "text": "c", "align": "left", "baseline": "middle", "fontSize": 13, "fontStyle": "italic", "color": "#000000"},
             "encoding": {"x": {"datum": 156.3, "type": "quantitative", "axis": null}, "y": {"datum": 7.08, "type": "quantitative", "axis": null}}},
            {"data": {"name": "one"}, "mark": {"type": "text", "text": "11", "align": "left", "baseline": "middle", "fontSize": 8.5, "color": "#000000", "dx": 7, "dy": 4},
             "encoding": {"x": {"datum": 156.3, "type": "quantitative", "axis": null}, "y": {"datum": 7.08, "type": "quantitative", "axis": null}}},
            {"data": {"name": "one"}, "mark": {"type": "text", "text": "=", "align": "left", "baseline": "middle", "fontSize": 11, "color": "#000000", "dx": 19.5},
             "encoding": {"x": {"datum": 156.3, "type": "quantitative", "axis": null}, "y": {"datum": 7.08, "type": "quantitative", "axis": null}}},
            {"data": {"name": "one"}, "mark": {"type": "text", "text": "c", "align": "left", "baseline": "middle", "fontSize": 13, "fontStyle": "italic", "color": "#ff0000", "dx": 28.5},
             "encoding": {"x": {"datum": 156.3, "type": "quantitative", "axis": null}, "y": {"datum": 7.08, "type": "quantitative", "axis": null}}},
            {"data": {"name": "one"}, "mark": {"type": "text", "text": "22", "align": "left", "baseline": "middle", "fontSize": 8.5, "color": "#ff0000", "dx": 35.5, "dy": 4},
             "encoding": {"x": {"datum": 156.3, "type": "quantitative", "axis": null}, "y": {"datum": 7.08, "type": "quantitative", "axis": null}}}
          ],
          "resolve": {"axis": {"x": "independent", "y": "independent"}}
        },
        {
          "width": 272, "height": 100,
          "view": {"stroke": null},
          "transform": [{"filter": "datum.s == 'c33'"}],
          "layer": [
            {
              "mark": {"type": "point", "filled": true, "opacity": 1},
              "encoding": {
                "x": {"field": "T", "type": "quantitative", "scale": {"domain": [30, 300], "nice": false, "zero": false},
                      "axis": {"title": "Temperature (K)", "values": [50, 75, 100, 125, 150, 175, 200, 225, 250, 275, 300], "labelExpr": "datum.value % 50 == 0 ? datum.label : ''"}},
                "y": {"field": "v", "type": "quantitative", "scale": {"domain": [4.0, 5.0], "nice": false, "zero": false},
                      "axis": {"title": "ρυ² (10¹⁰N/m²)", "titleY": -1, "values": [4.0, 4.25, 4.5, 4.75], "labelExpr": "abs(datum.value * 2 - round(datum.value * 2)) < 0.001 ? replace(format(datum.value, '.1f'), '.', ',') : ''"}},
                "shape": {"field": "s", "type": "nominal", "scale": {"domain": ["c11", "c22", "c33"], "range": ["circle", "square", "triangle-up"]}, "legend": null},
                "color": {"field": "s", "type": "nominal", "scale": {"domain": ["c11", "c22", "c33"], "range": ["#000000", "#ff0000", "#0000ff"]}, "legend": null},
                "size": {"field": "s", "type": "nominal", "scale": {"domain": ["c11", "c22", "c33"], "range": [46, 44, 66]}, "legend": null}
              }
            },
            {
              "data": {"name": "one"},
              "mark": {"type": "text", "text": "c", "align": "left", "baseline": "middle", "fontSize": 13, "fontStyle": "italic", "color": "#0000ff"},
              "encoding": {
                "x": {"datum": 159.0, "type": "quantitative", "axis": null},
                "y": {"datum": 4.63, "type": "quantitative", "axis": {"orient": "right", "labels": false, "title": null, "values": [4.25, 4.5, 4.75]}}
              }
            },
            {"data": {"name": "one"}, "mark": {"type": "rule", "color": "#8a8a8a", "strokeWidth": 1},
             "encoding": {"x": {"datum": 30, "type": "quantitative", "axis": null}, "y": {"datum": 4.0, "type": "quantitative", "axis": null}, "y2": {"datum": 5.0}}},
            {"data": {"name": "one"}, "mark": {"type": "rule", "color": "#8a8a8a", "strokeWidth": 1},
             "encoding": {"x": {"datum": 300, "type": "quantitative", "axis": null}, "y": {"datum": 4.0, "type": "quantitative", "axis": null}, "y2": {"datum": 5.0}}},
            {"data": {"name": "one"}, "mark": {"type": "rule", "color": "#8a8a8a", "strokeWidth": 1},
             "encoding": {"x": {"datum": 30, "type": "quantitative", "axis": null}, "x2": {"datum": 300}, "y": {"datum": 4.0, "type": "quantitative", "axis": null}}},
            {"data": {"name": "one"}, "mark": {"type": "text", "text": "33", "align": "left", "baseline": "middle", "fontSize": 8.5, "color": "#0000ff", "dx": 7, "dy": 4},
             "encoding": {"x": {"datum": 159.0, "type": "quantitative", "axis": null}, "y": {"datum": 4.63, "type": "quantitative", "axis": null}}},
            {"data": {"name": "one"}, "mark": {"type": "point", "shape": "M-1,0.05L1,-0.75M-1,0.75L1,-0.05", "size": 49, "filled": false, "color": "#666666", "strokeWidth": 1, "opacity": 1},
             "encoding": {"x": {"datum": 30, "type": "quantitative", "axis": null}, "y": {"datum": 5.0, "type": "quantitative", "axis": null}}},
            {"data": {"name": "one"}, "mark": {"type": "point", "shape": "M-1,0.05L1,-0.75M-1,0.75L1,-0.05", "size": 49, "filled": false, "color": "#666666", "strokeWidth": 1, "opacity": 1},
             "encoding": {"x": {"datum": 300, "type": "quantitative", "axis": null}, "y": {"datum": 5.0, "type": "quantitative", "axis": null}}}
          ],
          "resolve": {"axis": {"x": "independent", "y": "independent"}}
        }
      ]
    }
  ]
}
